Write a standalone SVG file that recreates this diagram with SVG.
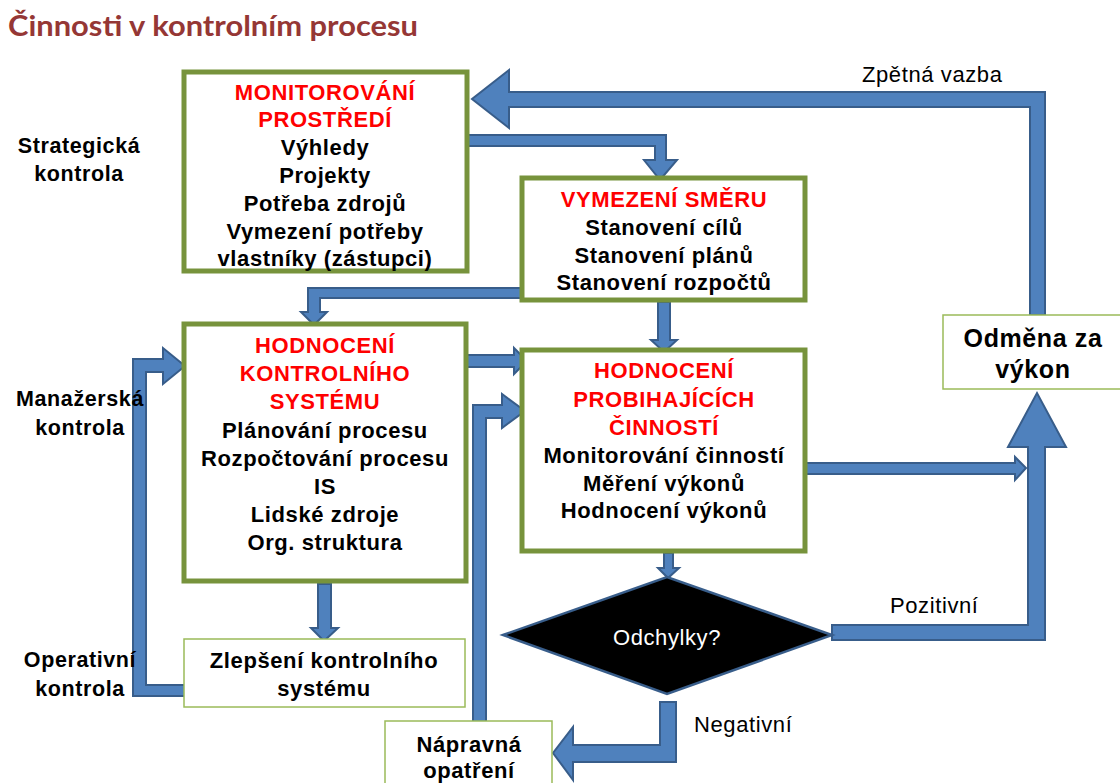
<svg xmlns="http://www.w3.org/2000/svg" width="1120" height="783" viewBox="0 0 1120 783">
  <style>
    .box { fill: #ffffff; stroke: #77933C; stroke-width: 5; }
    .thin { fill: #ffffff; stroke: #9BBB59; stroke-width: 1.5; }
    .arrow { fill: #4F81BD; stroke: #385D8A; stroke-width: 2; stroke-linejoin: miter; }
    .t { font-family: "Liberation Sans", Arial, sans-serif; font-weight: bold; font-size: 22px; letter-spacing: 0.6px; text-anchor: middle; fill: #000000; }
    .red { fill: #FF0000; }
    .lbl { font-family: "Liberation Sans", Arial, sans-serif; font-size: 22px; letter-spacing: 0.6px; fill: #000000; }
    .side { font-family: "Liberation Sans", Arial, sans-serif; font-weight: bold; font-size: 21.5px; letter-spacing: 0.6px; text-anchor: middle; fill: #000000; }
  </style>

  <rect width="1120" height="783" fill="#ffffff"/>

  <!-- title -->
  <text x="8" y="36" font-family="Lato, 'Open Sans', sans-serif" font-weight="bold" font-size="29" fill="#953735" textLength="410" lengthAdjust="spacingAndGlyphs">Činnosti v kontrolním procesu</text>

  <!-- block-arrow connectors -->
  <g id="connectors">
    <!-- feedback: reward back to environment monitoring -->
    <polygon class="arrow" points="1030,315 1030,107 509,107 509,128 472,99 509,70 509,92 1045,92 1045,315"/>
    <!-- monitoring -> direction -->
    <polygon class="arrow" points="467,135 666,135 666,160 677,160 660,180 644,160 655,160 655,146 467,146"/>
    <!-- direction -> control system evaluation -->
    <polygon class="arrow" points="525,288 308,288 308,312 301,312 314,325 327,312 320,312 320,298 525,298"/>
    <!-- control system -> ongoing activities -->
    <polygon class="arrow" points="466,355 514,355 514,348 527,361 514,374 514,367 466,367"/>
    <!-- direction -> ongoing activities -->
    <polygon class="arrow" points="658,302 670,302 670,340 677,340 664,352 651,340 658,340"/>
    <!-- improvement loop back to control system -->
    <polygon class="arrow" points="186,685 146,685 146,372 163,372 163,384 185,366 163,348 163,359 133,359 133,696 186,696"/>
    <!-- control system -> improvement -->
    <polygon class="arrow" points="318,584 331,584 331,628 338,628 324,641 311,628 318,628"/>
    <!-- corrective action -> ongoing activities -->
    <polygon class="arrow" points="473,722 473,405 502,405 502,394 525,411 502,428 502,418 486,418 486,722"/>
    <!-- ongoing activities -> deviation decision -->
    <polygon class="arrow" points="664,553 673,553 673,568 679,568 668,578 658,568 664,568"/>
    <!-- negative branch -> corrective action -->
    <polygon class="arrow" points="660,702 676,702 676,762 573,762 573,780 553,753 573,727 573,745 660,745"/>
    <!-- positive branch -> reward -->
    <polygon class="arrow" points="832,625 1028,625 1028,447 1008,447 1037,393 1066,447 1045,447 1045,640 832,640"/>
    <!-- ongoing activities -> reward -->
    <polygon class="arrow" points="806,463 1015,463 1015,457 1026,468 1015,480 1015,474 806,474"/>
  </g>

  <!-- side labels for control levels (drawn over the loop arrow) -->
  <g id="labels-levels">
    <text class="side" x="79" y="153">Strategická</text>
    <text class="side" x="79" y="181">kontrola</text>
    <text class="side" x="80" y="406">Manažerská</text>
    <text class="side" x="80" y="435">kontrola</text>
    <text class="side" x="80" y="667">Operativní</text>
    <text class="side" x="80" y="696">kontrola</text>
  </g>

  <!-- connector labels -->
  <g id="connector-labels">
    <text class="lbl" x="862" y="82">Zpětná vazba</text>
    <text class="lbl" x="890" y="613">Pozitivní</text>
    <text class="lbl" x="694" y="732">Negativní</text>
  </g>

  <g id="monitorovani">
    <rect class="box" x="184" y="72" width="283" height="199"/>
    <text class="t red" x="325" y="100">MONITOROVÁNÍ</text>
    <text class="t red" x="325" y="127">PROSTŘEDÍ</text>
    <text class="t" x="325" y="155">Výhledy</text>
    <text class="t" x="325" y="183">Projekty</text>
    <text class="t" x="325" y="211">Potřeba zdrojů</text>
    <text class="t" x="325" y="239">Vymezení potřeby</text>
    <text class="t" x="325" y="266">vlastníky (zástupci)</text>
  </g>

  <g id="vymezeni-smeru">
    <rect class="box" x="522" y="178" width="283" height="122"/>
    <text class="t red" x="664" y="207">VYMEZENÍ SMĚRU</text>
    <text class="t" x="664" y="235">Stanovení cílů</text>
    <text class="t" x="664" y="263">Stanovení plánů</text>
    <text class="t" x="664" y="290">Stanovení rozpočtů</text>
  </g>

  <g id="hodnoceni-systemu">
    <rect class="box" x="184" y="324" width="282" height="257"/>
    <text class="t red" x="325" y="353">HODNOCENÍ</text>
    <text class="t red" x="325" y="381">KONTROLNÍHO</text>
    <text class="t red" x="325" y="409">SYSTÉMU</text>
    <text class="t" x="325" y="438">Plánování procesu</text>
    <text class="t" x="325" y="466">Rozpočtování procesu</text>
    <text class="t" x="325" y="494">IS</text>
    <text class="t" x="325" y="522">Lidské zdroje</text>
    <text class="t" x="325" y="550">Org. struktura</text>
  </g>

  <g id="hodnoceni-cinnosti">
    <rect class="box" x="522" y="350" width="283" height="201"/>
    <text class="t red" x="664" y="378">HODNOCENÍ</text>
    <text class="t red" x="664" y="407">PROBIHAJÍCÍCH</text>
    <text class="t red" x="664" y="435">ČINNOSTÍ</text>
    <text class="t" x="664" y="463">Monitorování činností</text>
    <text class="t" x="664" y="491">Měření výkonů</text>
    <text class="t" x="664" y="518">Hodnocení výkonů</text>
  </g>

  <g id="odmena">
    <rect class="thin" x="943" y="315" width="185" height="74"/>
    <text class="t" x="1033" y="347" style="font-size:25px">Odměna za</text>
    <text class="t" x="1033" y="378" style="font-size:25px">výkon</text>
  </g>

  <g id="zlepseni">
    <rect class="thin" x="184" y="639" width="281" height="68"/>
    <text class="t" x="324" y="668">Zlepšení kontrolního</text>
    <text class="t" x="324" y="696">systému</text>
  </g>

  <g id="napravna-opatreni">
    <rect class="thin" x="385" y="721" width="167" height="70"/>
    <text class="t" x="469" y="752">Nápravná</text>
    <text class="t" x="469" y="778">opatření</text>
  </g>

  <g id="odchylky">
    <polygon points="503,635 667,577 832,635 667,694" fill="#000000" stroke="#385D8A" stroke-width="2.5"/>
    <text x="667" y="645" font-family="'Liberation Sans', Arial, sans-serif" font-size="22" letter-spacing="0.6" text-anchor="middle" fill="#ffffff">Odchylky?</text>
  </g>
</svg>
